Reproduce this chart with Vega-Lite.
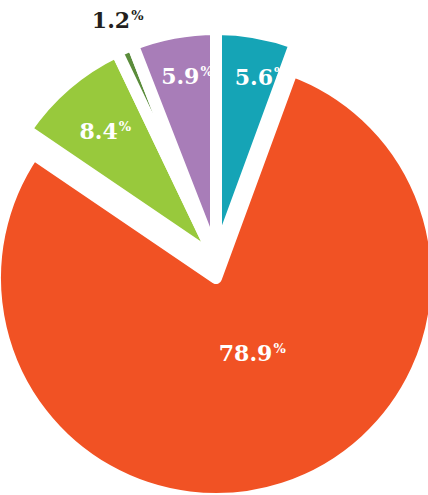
{
  "$schema": "https://vega.github.io/schema/vega-lite/v6.json",
  "width": 428,
  "height": 495,
  "padding": 0,
  "autosize": {"type": "none"},
  "background": "white",
  "config": {"view": {"stroke": null}},
  "data": {
    "values": [
      {"k": 1, "cat": "teal", "value": 5.6, "label": "5.6"},
      {"k": 2, "cat": "orange", "value": 78.9, "label": "78.9"},
      {"k": 3, "cat": "lightgreen", "value": 8.4, "label": "8.4"},
      {"k": 4, "cat": "darkgreen", "value": 1.2, "label": "1.2"},
      {"k": 5, "cat": "purple", "value": 5.9, "label": "5.9"}
    ]
  },
  "encoding": {
    "theta": {"field": "value", "type": "quantitative", "stack": true},
    "order": {"field": "k", "type": "quantitative"},
    "detail": {"field": "cat", "type": "nominal"}
  },
  "layer": [
    {
      "mark": {"type": "arc", "x": 216, "y": 278, "radius": 221, "stroke": "white", "strokeWidth": 12, "strokeJoin": "round"},
      "encoding": {
        "color": {"field": "cat", "type": "nominal", "legend": null,
          "scale": {"domain": ["teal", "orange", "lightgreen", "darkgreen", "purple"],
                    "range": ["#15a4b6", "#f15224", "#98c93c", "#5b8c3b", "#a87db8"]}},
        "opacity": {"condition": {"test": "datum.cat === 'orange'", "value": 1}, "value": 0}
      }
    },
    {
      "mark": {"type": "arc", "x": 216, "y": 259, "radius": 230, "stroke": "white", "strokeWidth": 12, "strokeJoin": "round"},
      "encoding": {
        "color": {"field": "cat", "type": "nominal", "legend": null,
          "scale": {"domain": ["teal", "orange", "lightgreen", "darkgreen", "purple"],
                    "range": ["#15a4b6", "#f15224", "#98c93c", "#5b8c3b", "#a87db8"]}},
        "opacity": {"condition": {"test": "datum.cat !== 'orange'", "value": 1}, "value": 0}
      }
    },
    {
      "mark": {"type": "text", "x": 216, "y": 278, "radius": 200, "dx": 22, "dy": 4, "align": "right", "baseline": "alphabetic", "font": "DejaVu Serif", "fontWeight": "bold", "fontSize": 22, "fill": "white"},
      "encoding": {"text": {"field": "label"}, "opacity": {"condition": {"test": "datum.cat === 'teal'", "value": 1}, "value": 0}}
    },
    {
      "mark": {"type": "text", "x": 216, "y": 278, "radius": 200, "dx": 23, "dy": -4, "align": "left", "baseline": "alphabetic", "font": "DejaVu Serif", "fontWeight": "bold", "fontSize": 13, "fill": "white"},
      "encoding": {"text": {"value": "%"}, "opacity": {"condition": {"test": "datum.cat === 'teal'", "value": 1}, "value": 0}}
    },
    {
      "mark": {"type": "text", "x": 216, "y": 278, "radius": 96, "dx": 27, "dy": -8, "align": "right", "baseline": "alphabetic", "font": "DejaVu Serif", "fontWeight": "bold", "fontSize": 22, "fill": "white"},
      "encoding": {"text": {"field": "label"}, "opacity": {"condition": {"test": "datum.cat === 'orange'", "value": 1}, "value": 0}}
    },
    {
      "mark": {"type": "text", "x": 216, "y": 278, "radius": 96, "dx": 28, "dy": -16, "align": "left", "baseline": "alphabetic", "font": "DejaVu Serif", "fontWeight": "bold", "fontSize": 13, "fill": "white"},
      "encoding": {"text": {"value": "%"}, "opacity": {"condition": {"test": "datum.cat === 'orange'", "value": 1}, "value": 0}}
    },
    {
      "mark": {"type": "text", "x": 216, "y": 278, "radius": 169, "dx": 12, "dy": -11, "align": "right", "baseline": "alphabetic", "font": "DejaVu Serif", "fontWeight": "bold", "fontSize": 22, "fill": "white"},
      "encoding": {"text": {"field": "label"}, "opacity": {"condition": {"test": "datum.cat === 'lightgreen'", "value": 1}, "value": 0}}
    },
    {
      "mark": {"type": "text", "x": 216, "y": 278, "radius": 169, "dx": 13, "dy": -19, "align": "left", "baseline": "alphabetic", "font": "DejaVu Serif", "fontWeight": "bold", "fontSize": 13, "fill": "white"},
      "encoding": {"text": {"value": "%"}, "opacity": {"condition": {"test": "datum.cat === 'lightgreen'", "value": 1}, "value": 0}}
    },
    {
      "mark": {"type": "text", "x": 216, "y": 278, "radius": 264, "dx": 19, "dy": -8, "align": "right", "baseline": "alphabetic", "font": "DejaVu Serif", "fontWeight": "bold", "fontSize": 22, "fill": "#231f20"},
      "encoding": {"text": {"field": "label"}, "opacity": {"condition": {"test": "datum.cat === 'darkgreen'", "value": 1}, "value": 0}}
    },
    {
      "mark": {"type": "text", "x": 216, "y": 278, "radius": 264, "dx": 20, "dy": -16, "align": "left", "baseline": "alphabetic", "font": "DejaVu Serif", "fontWeight": "bold", "fontSize": 13, "fill": "#231f20"},
      "encoding": {"text": {"value": "%"}, "opacity": {"condition": {"test": "datum.cat === 'darkgreen'", "value": 1}, "value": 0}}
    },
    {
      "mark": {"type": "text", "x": 216, "y": 278, "radius": 193, "dx": 19, "dy": -4, "align": "right", "baseline": "alphabetic", "font": "DejaVu Serif", "fontWeight": "bold", "fontSize": 22, "fill": "white"},
      "encoding": {"text": {"field": "label"}, "opacity": {"condition": {"test": "datum.cat === 'purple'", "value": 1}, "value": 0}}
    },
    {
      "mark": {"type": "text", "x": 216, "y": 278, "radius": 193, "dx": 20, "dy": -12, "align": "left", "baseline": "alphabetic", "font": "DejaVu Serif", "fontWeight": "bold", "fontSize": 13, "fill": "white"},
      "encoding": {"text": {"value": "%"}, "opacity": {"condition": {"test": "datum.cat === 'purple'", "value": 1}, "value": 0}}
    }
  ]
}
